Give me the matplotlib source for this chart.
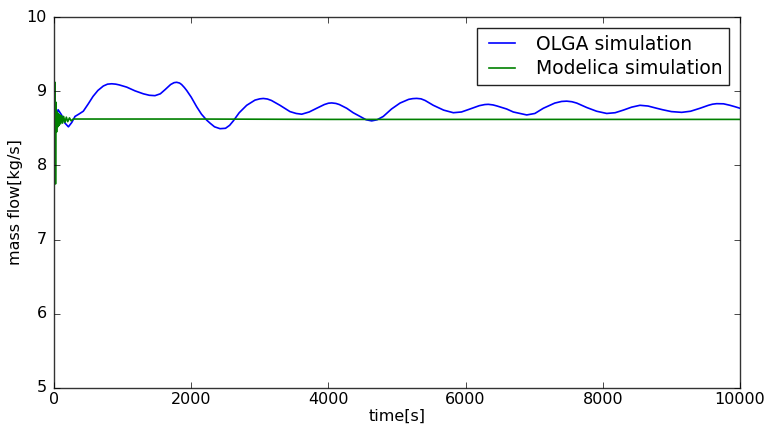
import matplotlib
matplotlib.use("Agg")
import matplotlib.pyplot as plt

# OLGA simulation (blue)
olga_t = [0, 20, 60, 110, 160, 210, 260, 306, 360, 427, 500, 569, 640, 719, 780, 841, 900, 950,
          1060, 1180, 1302, 1390, 1472, 1550, 1618, 1700, 1750, 1788, 1830, 1860, 1900, 1934,
          2000, 2080, 2150, 2226, 2274, 2340, 2420, 2500, 2560, 2614, 2700, 2809, 2930, 3000,
          3051, 3110, 3170, 3294, 3440, 3530, 3611, 3720, 3829, 3940, 4000, 4048, 4110,
          4160, 4267, 4361, 4461, 4550, 4631, 4710, 4800, 4920, 5044, 5170, 5230, 5287, 5350,
          5410, 5529, 5680, 5821, 5940, 6064, 6200, 6280, 6331, 6400, 6460, 6599, 6695, 6891,
          7010, 7133, 7300, 7400, 7474, 7550, 7620, 7766, 7910, 8057, 8180, 8299, 8420, 8542,
          8660, 8785, 8873, 9000, 9150, 9280, 9417, 9540, 9600, 9660, 9760, 9854, 9930, 10000]
olga_v = [8.47, 8.62, 8.75, 8.68, 8.57, 8.52, 8.58, 8.66, 8.69, 8.73, 8.83, 8.93, 9.01, 9.07,
          9.095, 9.10, 9.095, 9.085, 9.055, 9.005, 8.965, 8.945, 8.94, 8.965, 9.02, 9.09,
          9.115, 9.12, 9.11, 9.09, 9.05, 9.01, 8.92, 8.79, 8.69, 8.61, 8.57, 8.52, 8.495,
          8.50, 8.54, 8.60, 8.71, 8.81, 8.88, 8.897, 8.902, 8.895, 8.875, 8.81, 8.725, 8.70,
          8.69, 8.72, 8.77, 8.82, 8.838, 8.842, 8.835, 8.82, 8.77, 8.71, 8.66, 8.615, 8.60,
          8.615, 8.66, 8.76, 8.84, 8.89, 8.90, 8.903, 8.897, 8.875, 8.81, 8.745, 8.71, 8.72,
          8.76, 8.805, 8.82, 8.823, 8.815, 8.80, 8.76, 8.72, 8.68, 8.70, 8.77, 8.84, 8.862,
          8.866, 8.858, 8.84, 8.78, 8.73, 8.70, 8.71, 8.745, 8.785, 8.81, 8.80, 8.77, 8.75,
          8.725, 8.715, 8.73, 8.77, 8.81, 8.825, 8.832, 8.83, 8.81, 8.79, 8.77]

# Modelica simulation (green)
mod_t = [0, 14, 22, 30, 38, 46, 55, 64, 74, 84, 96, 110, 125, 140, 160, 180, 200, 225,
         250, 280, 400, 1000, 2000, 4000, 10000]
mod_v = [8.60, 9.12, 7.75, 8.85, 8.45, 8.72, 8.52, 8.70, 8.54, 8.68, 8.56, 8.67, 8.57,
         8.66, 8.58, 8.65, 8.59, 8.64, 8.60, 8.625, 8.625, 8.625, 8.625, 8.62, 8.62]

series_labels = ["OLGA simulation", "Modelica simulation"]
x_ticks = [0, 2000, 4000, 6000, 8000, 10000]
y_ticks = [5, 6, 7, 8, 9, 10]

plt.style.use("classic")
plt.rcParams["font.family"] = ["DejaVu Sans"]
plt.rcParams["font.size"] = 11
plt.rcParams["xtick.major.pad"] = 3
plt.rcParams["ytick.major.pad"] = 5

fig = plt.figure(figsize=(7.68, 4.33), dpi=100, facecolor="white")
ax = fig.add_axes([54 / 768, 1 - 388 / 433, 686 / 768, 371 / 433])
ax.set_facecolor("white")
for sp in ax.spines.values():
    sp.set_color("#333333")

ax.plot(olga_t, olga_v, color="b", lw=1.2, label=series_labels[0])
ax.plot(mod_t, mod_v, color="g", lw=1.2, label=series_labels[1])

ax.set_xlim(0, 10000)
ax.set_ylim(5, 10)
ax.set_xticks(x_ticks)
ax.set_yticks(y_ticks)
ax.tick_params(labelsize=11.5)
ax.set_xlabel("time[s]", fontsize=11.5, labelpad=1)
ax.set_ylabel("mass flow[kg/s]", fontsize=11.5, labelpad=3)
leg = ax.legend(loc="upper right", fontsize=13.5, borderaxespad=0.6,
                labelspacing=0.3, handlelength=2.0, borderpad=0.35)
leg.get_frame().set_edgecolor("#222222")

fig.savefig("out.png", dpi=100, facecolor="white")
